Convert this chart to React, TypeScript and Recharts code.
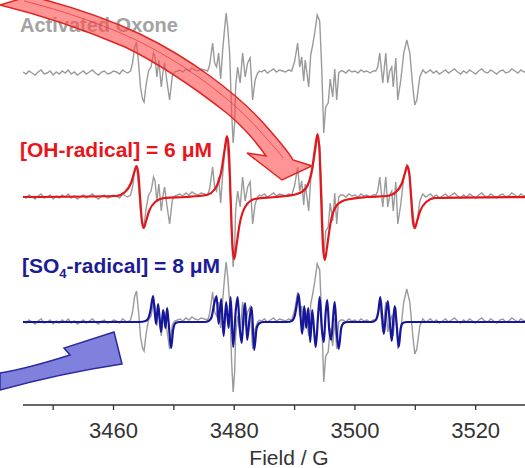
import { LineChart, Line, XAxis, YAxis } from "recharts";

// Experimental EPR trace (gray), intensity in px above its own baseline
const expField = [
  3445, 3445.5, 3446, 3446.5, 3447, 3447.5, 3448, 3448.5, 3449, 3449.5, 3450, 3450.5,
  3451, 3451.5, 3452, 3452.5, 3453, 3453.5, 3454, 3454.5, 3455, 3455.5, 3456, 3456.5,
  3457, 3457.5, 3458, 3458.5, 3459, 3459.5, 3460, 3460.5, 3461, 3461.5, 3462,
  3462.32, 3462.82, 3463.15, 3463.48, 3463.81, 3464.15, 3464.48, 3464.81, 3465.06, 3465.39,
  3465.8, 3466.22, 3466.63, 3466.88, 3467.18, 3467.51, 3467.91, 3468.21, 3468.46, 3468.84,
  3469.29, 3469.74, 3470.12, 3470.61,
  3471, 3471.5, 3472, 3472.5, 3473, 3473.5, 3474, 3474.5,
  3475.09, 3475.59, 3475.92, 3476.42, 3476.75, 3477.08, 3477.41, 3477.75, 3478.08, 3478.41,
  3478.66, 3478.91, 3479.24, 3479.57, 3479.82, 3480.07, 3480.23, 3480.56, 3480.98, 3481.39,
  3481.81, 3482.22, 3482.64, 3483.05, 3483.47, 3483.88, 3484.21,
  3484.5, 3485, 3485.5, 3486, 3486.5, 3487, 3487.5, 3488, 3488.5, 3489,
  3489.52, 3490.02, 3490.51, 3490.85, 3491.18, 3491.51, 3491.76, 3492.09, 3492.34, 3492.67,
  3493.0, 3493.33, 3493.75, 3494.16, 3494.49, 3494.83, 3495.16, 3495.57, 3495.9, 3496.32,
  3496.65, 3496.98, 3497.31, 3497.65,
  3498, 3498.5, 3499, 3499.5, 3500, 3500.5, 3501, 3501.5, 3502, 3502.5, 3503,
  3503.45, 3503.78, 3504.11, 3504.61, 3505.11, 3505.44, 3505.77, 3506.1, 3506.35, 3506.77,
  3507.1, 3507.6, 3508.09, 3508.59, 3509.09, 3509.59, 3509.92, 3510.25, 3510.75, 3511.24,
  3511.74,
  3512, 3512.5, 3513, 3513.5, 3514, 3514.5, 3515, 3515.5, 3516, 3516.5, 3517, 3517.5,
  3518, 3518.5, 3519, 3519.5, 3520, 3520.5, 3521, 3521.5, 3522, 3522.5, 3523, 3523.5,
  3524, 3524.5, 3525, 3525.5, 3526, 3526.5, 3527, 3527.5, 3528, 3528.5, 3529, 3529.5, 3530,
];
const expSignal = [
  1, -1, 2, 0, -2, 1, 3, -1, 0, 2, -2, 1, -1, 2, 0, 3, -1, 1, -2, 0, 2, -1, 1, 3, 0, -2, 1, 2,
  -1, 0, 2, 1, -1, 3, 1,
  0, 2, 10, 25, 31, 10, -15, -26, -29, -12, 2, 6, 20, 16, -4, 13, -14, 2, 10, -8, -27, -3, 1, 2,
  3, 1, 4, 2, 5, 3, 2, 4,
  3, 2, 8, 30, 10, 6, 20, -6, 22, 45, 60, 46, 20, -40, -70, -50, -14, 6, -10, 20, -4, 10, 15,
  -27, -7, 0, 2,
  1, 3, 0, 2, 4, 1, 3, 2, 1, 3,
  2, 12, 30, 6, 16, -8, 13, -2, -14, 18, 28, 40, 58, 52, 6, -60, -34, -30, -6, -24, 4, -27, 0, 2,
  2, 0, 3, 1, 2, 0, 3, 1, 2, 0, 2,
  2, 6, 20, -10, 20, -10, 2, 6, -14, 15, -27, -7, 20, 33, 20, -14, -32, -27, -4, 3, 0,
  1, 3, 0, 2, -1, 1, 3, 0, 2, 4, 1, -1, 2, 0, 3, 1, -1, 2, 4, 1, 0, 3, 1, -1, 2, 3, 0, 1, 4, 2,
  0, 3, 1, 2, 0, 1, 2,
];

// simulated DMPO-OH quartet (red)
const ohField = [
  3445,
  3460.4, 3461.9, 3462.9, 3463.4, 3463.8, 3464.1, 3464.4, 3464.7, 3465.0, 3465.4, 3465.9, 3466.9, 3468.4,
  3472,
  3475.4, 3476.9, 3477.9, 3478.4, 3478.8, 3479.1, 3479.4, 3479.7, 3480.0, 3480.4, 3480.9, 3481.9, 3483.4,
  3487,
  3490.4, 3491.9, 3492.9, 3493.4, 3493.8, 3494.1, 3494.4, 3494.7, 3495.0, 3495.4, 3495.9, 3496.9, 3498.4,
  3502,
  3505.3, 3506.8, 3507.8, 3508.3, 3508.7, 3509.0, 3509.3, 3509.6, 3509.9, 3510.3, 3510.8, 3511.8, 3513.3,
  3530,
];
const ohSim = [
  0,
  1, 5, 14, 24, 31, 24, 0, -24, -31, -24, -14, -5, -1,
  0,
  2, 9, 27, 47, 61, 48, 0, -48, -62, -47, -27, -9, -2,
  0,
  3, 9, 28, 49, 63, 49, 0, -49, -63, -49, -28, -9, -3,
  0,
  1, 5, 14, 24, 31, 24, 0, -24, -31, -24, -14, -5, -1,
  0,
];

// simulated DMPO-SO4 adduct (blue)
const so4Field = [
  3445,
  3464.31, 3465.31, 3465.8, 3466.14, 3466.55, 3466.8, 3467.05, 3467.38, 3467.63, 3467.88,
  3468.21, 3468.46, 3468.62, 3468.87, 3469.12, 3469.54, 3469.87, 3470.28, 3470.95,
  3475.09, 3475.76, 3476.25, 3476.67, 3477.08, 3477.41, 3477.83, 3478.24, 3478.66, 3479.07,
  3479.4, 3479.82, 3480.23, 3480.56, 3480.9, 3481.23, 3481.56, 3481.81, 3482.14, 3482.55,
  3482.89, 3483.3, 3483.72, 3484.21, 3484.88,
  3488.86, 3489.52, 3490.02, 3490.43, 3490.68, 3491.01, 3491.26, 3491.59, 3491.92, 3492.26,
  3492.59, 3492.92, 3493.25, 3493.5, 3493.91, 3494.16, 3494.49, 3494.83, 3495.16, 3495.41,
  3495.74, 3496.07, 3496.4, 3496.65, 3496.98, 3497.31, 3497.73, 3498.14, 3498.81,
  3502.79, 3503.45, 3503.86, 3504.2, 3504.53, 3504.78, 3505.11, 3505.44, 3505.77, 3506.1,
  3506.35, 3506.6, 3506.93, 3507.26, 3507.6, 3507.93, 3508.59,
  3530,
];
const so4Sim = [
  0,
  0, 1, 4, 12, 26, 12, -2, 18, 4, -10, 12, 2, -6, 14, 0, -26, -8, -1, 0,
  0, 1, 5, 18, 26, -2, 23, -14, 20, -6, 25, -25, 10, 25, -5, -21, 8, 19, -18, 4, 15, -28, -6, -1, 0,
  0, 1, 6, 20, 28, 4, -12, 16, -6, 14, -20, 12, -10, -25, 8, 25, -5, -20, 10, 22, -8, -18, 6, 20,
  -10, -27, -6, -1, 0,
  0, 2, 10, 25, 4, -12, 6, 21, 0, -19, 2, 16, -4, -25, -6, -1, 0,
  0,
];

const allTicks = [3450, 3460, 3470, 3480, 3490, 3500, 3510, 3520];
const labelTicks = [3460, 3480, 3500, 3520];

// vertical offsets of the three stacked spectra
const TOP = 332;
const MID = 208;
const BOT = 83;

const shift = (xs: number[], ys: number[], off: number) =>
  xs.map((b, i) => ({ b, y: ys[i] + off }));

const FONT = "'Liberation Sans', Arial, sans-serif";

function FieldTick({ x, y, payload }: any) {
  if (!labelTicks.includes(payload.value)) return <g />;
  return (
    <text x={x} y={y + 10} dy="0.71em" textAnchor="middle" fontSize={22} fill="#333" fontFamily={FONT}>
      {payload.value}
    </text>
  );
}

export default function App() {
  const gray = { stroke: "#9a9a9a", strokeWidth: 1.4 };
  return (
    <div style={{ position: "absolute", left: 0, top: 0, width: 525, height: 468, overflow: "hidden", background: "#fff" }}>
      <LineChart width={540} height={468} margin={{ top: 0, right: 4, left: 23, bottom: 0 }}>
        <XAxis
          type="number"
          dataKey="b"
          domain={[3445, 3530]}
          allowDataOverflow
          ticks={allTicks}
          tick={<FieldTick />}
          tickSize={5}
          height={63}
          stroke="#333"
          strokeWidth={1.3}
        />
        <YAxis hide type="number" domain={[0, 405]} allowDataOverflow />
        <Line data={shift(expField, expSignal, TOP)} dataKey="y" type="linear" dot={false} {...gray} isAnimationActive={false} />
        <Line data={shift(expField, expSignal, MID)} dataKey="y" type="linear" dot={false} {...gray} isAnimationActive={false} />
        <Line data={shift(ohField, ohSim, MID)} dataKey="y" type="monotone" dot={false} stroke="#e3161c" strokeWidth={2.2} isAnimationActive={false} />
        <Line data={shift(expField, expSignal, BOT)} dataKey="y" type="linear" dot={false} {...gray} isAnimationActive={false} />
        <Line data={shift(so4Field, so4Sim, BOT)} dataKey="y" type="monotone" dot={false} stroke="#16169c" strokeWidth={2.2} isAnimationActive={false} />
      </LineChart>
      <svg width={525} height={468} style={{ position: "absolute", left: 0, top: 0, pointerEvents: "none" }}>
        <text x={20} y={32} fontSize={20} fontWeight="bold" fill="#a3a3a3" fontFamily={FONT}>
          Activated Oxone
        </text>
        <text x={20} y={157} fontSize={21} fontWeight="bold" fill="#e8161b" fontFamily={FONT}>
          [OH-radical] = 6 μM
        </text>
        <text x={22} y={273} fontSize={21} fontWeight="bold" fill="#1c1c96" fontFamily={FONT}>
          <tspan>[SO</tspan>
          <tspan dy={5} fontSize={13}>4</tspan>
          <tspan dy={-5}>-radical] = 8 μM</tspan>
        </text>
        <text x={289} y={465} fontSize={21} fill="#333" textAnchor="middle" fontFamily={FONT}>
          Field / G
        </text>
        {/* red curved arrow */}
        <path
          d="M 30,-4 C 70,6 110,20 140,34 C 190,58 238,94 266,126 C 281,143 289,152 293,160 L 312,166 L 282,180 L 247,153 L 266,156 C 255,140 242,126 228,114 C 195,88 160,64 125,47 C 85,30 45,16 0,5 Z"
          fill="#ff4d4d"
          fillOpacity={0.6}
          stroke="#e02424"
          strokeWidth={1.5}
        />
        <path
          d="M 24,1 C 64,11 104,25 134,39 C 184,63 232,99 260,131 C 272,145 279,152 283,158"
          fill="none"
          stroke="#e02424"
          strokeOpacity={0.6}
          strokeWidth={1}
        />
        {/* blue curved arrow */}
        <path
          d="M 0,373 C 25,369 48,362 70,355 L 64,348 L 114,332 L 122,364 C 82,370 40,379 0,390 Z"
          fill="#6060d4"
          fillOpacity={0.8}
          stroke="#2b2b9e"
          strokeWidth={1.5}
        />
      </svg>
    </div>
  );
}
